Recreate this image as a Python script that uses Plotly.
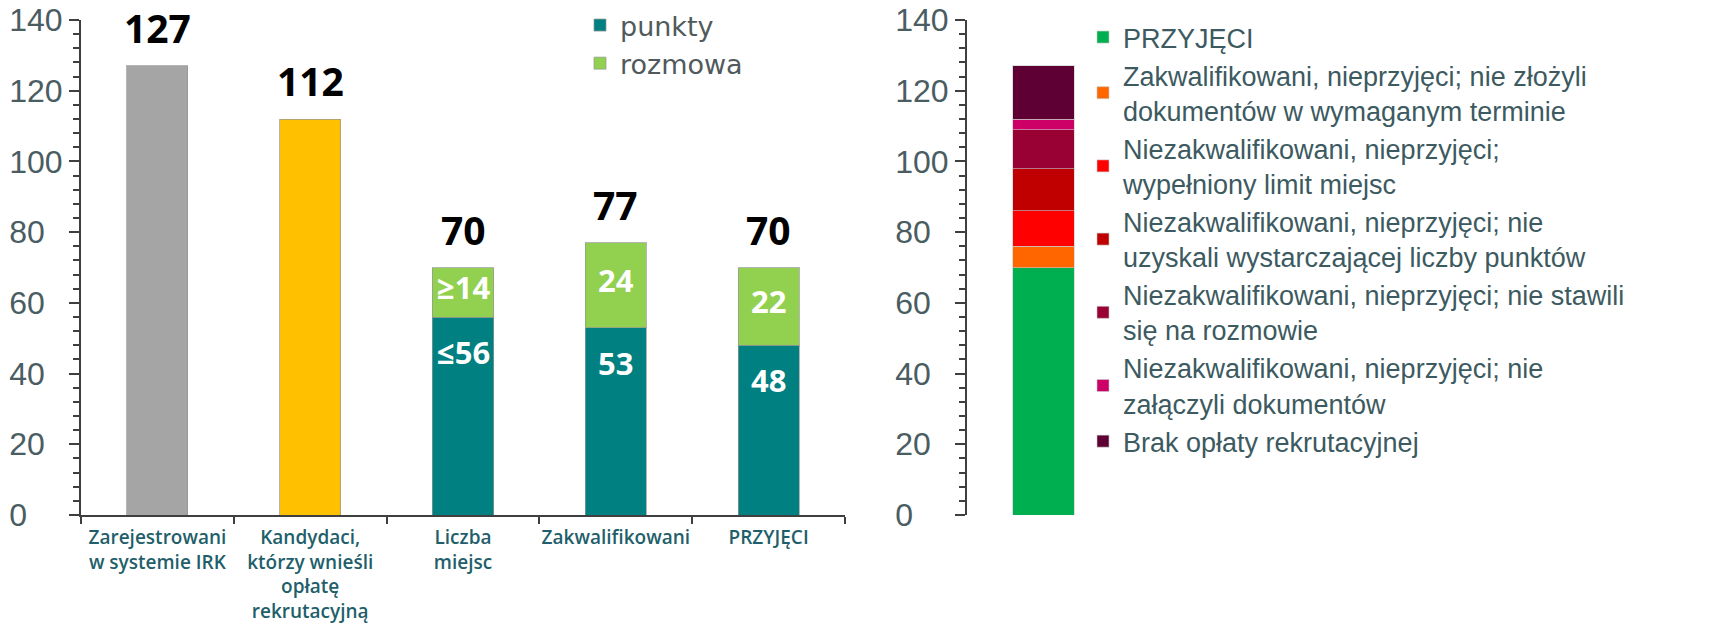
import plotly.graph_objects as go

# ---------------- data ----------------
categories = [
    "Zarejestrowani w systemie IRK",
    "Kandydaci, którzy wnieśli opłatę rekrutacyjną",
    "Liczba miejsc",
    "Zakwalifikowani",
    "PRZYJĘCI",
]
category_labels = [
    "Zarejestrowani<br>w systemie IRK",
    "Kandydaci,<br>którzy wnieśli<br>opłatę<br>rekrutacyjną",
    "Liczba<br>miejsc",
    "Zakwalifikowani",
    "PRZYJĘCI",
]
single_categories = categories[:2]
single_values = [127, 112]
single_colors = ["#A5A5A5", "#FFC000"]

split_categories = categories[2:]
punkty = [56, 53, 48]
rozmowa = [14, 24, 22]
punkty_labels = ["≤56", "53", "48"]
rozmowa_labels = ["≥14", "24", "22"]

status_names = [
    "PRZYJĘCI",
    "Zakwalifikowani, nieprzyjęci; nie złożyli<br>dokumentów w wymaganym terminie",
    "Niezakwalifikowani, nieprzyjęci;<br>wypełniony limit miejsc",
    "Niezakwalifikowani, nieprzyjęci; nie<br>uzyskali wystarczającej liczby punktów",
    "Niezakwalifikowani, nieprzyjęci; nie stawili<br>się na rozmowie",
    "Niezakwalifikowani, nieprzyjęci; nie<br>załączyli dokumentów",
    "Brak opłaty rekrutacyjnej",
]
status_values = [70, 6, 10, 12, 11, 3, 15]
status_colors = ["#00B050", "#FF6600", "#FF0000", "#C00000", "#990033", "#CC0066", "#5E0033"]
status_category = ["Kandydaci"]

y_tick_values = [0, 20, 40, 60, 80, 100, 120, 140]
y_tick_labels = [str(v) + "\u2007" * (3 - len(str(v))) for v in y_tick_values]

totals = single_values + [p + r for p, r in zip(punkty, rozmowa)]

# ---------------- style ----------------
W, H = 1733, 627
TEAL = "#008080"
LGREEN = "#92D050"
EDGE = "rgba(150,150,150,0.7)"
AXIS = "#3F3F3F"
TICKFONT = dict(family="Liberation Sans, Arial", size=32, color="#4A5D62")
y_dom = [1 - 515 / H, 1 - 20 / H]

fig = go.Figure()

fig.add_trace(go.Bar(
    x=single_categories, y=single_values,
    marker=dict(color=single_colors, line=dict(color=EDGE, width=1)),
    showlegend=False, xaxis="x", yaxis="y", hoverinfo="x+y",
))
fig.add_trace(go.Bar(
    x=split_categories, y=punkty, name="punkty",
    marker=dict(color=TEAL, line=dict(color=EDGE, width=1)),
    xaxis="x", yaxis="y", legend="legend2",
))
fig.add_trace(go.Bar(
    x=split_categories, y=rozmowa, name="rozmowa",
    marker=dict(color=LGREEN, line=dict(color=EDGE, width=1)),
    xaxis="x", yaxis="y", legend="legend2",
))

for name, val, col in zip(status_names, status_values, status_colors):
    fig.add_trace(go.Bar(
        x=status_category, y=[val], name=name,
        marker=dict(color=col, line=dict(color="rgba(200,200,200,0.6)", width=1)),
        xaxis="x2", yaxis="y2", legend="legend",
    ))

annotations = []
for cat, tot in zip(categories, totals):
    annotations.append(dict(
        x=cat, y=tot, xref="x", yref="y", text=str(tot), showarrow=False,
        yanchor="bottom", yshift=10,
        font=dict(family="Open Sans, DejaVu Sans", size=39, color="#000000", weight="bold"),
    ))
for cat, p, r, pl, rl in zip(split_categories, punkty, rozmowa, punkty_labels, rozmowa_labels):
    annotations.append(dict(
        x=cat, y=p, xref="x", yref="y", text=pl, showarrow=False,
        yanchor="top", yshift=-12,
        font=dict(family="Open Sans, DejaVu Sans", size=31, color="#FFFFFF", weight="bold"),
    ))
    annotations.append(dict(
        x=cat, y=p + r / 2, xref="x", yref="y", text=rl, showarrow=False,
        yanchor="middle", yshift=5,
        font=dict(family="Open Sans, DejaVu Sans", size=31, color="#FFFFFF", weight="bold"),
    ))

yaxis_common = dict(
    range=[0, 140], tickmode="array", tickvals=y_tick_values, ticktext=y_tick_labels,
    ticks="outside", ticklen=10, tickwidth=2, tickcolor=AXIS,
    showline=True, linecolor=AXIS, linewidth=2,
    showgrid=False, zeroline=False, tickfont=TICKFONT,
    ticklabeloverflow="allow", automargin=False,
    minor=dict(dtick=4, tick0=0, ticks="outside", ticklen=6, tickwidth=1.5, tickcolor=AXIS, showgrid=False),
    domain=y_dom, fixedrange=True,
)

fig.update_layout(
    template="none",
    width=W, height=H, autosize=False,
    margin=dict(l=0, r=0, t=0, b=0, pad=0),
    paper_bgcolor="white", plot_bgcolor="white",
    barmode="stack", bargap=0.6,
    xaxis=dict(
        domain=[81 / W, 845 / W], anchor="y",
        categoryorder="array", categoryarray=categories,
        tickmode="array", tickvals=categories, ticktext=category_labels,
        range=[-0.5, 4.5], tickangle=0, automargin=False, ticklabeloverflow="allow",
        ticklabelstandoff=4,
        showline=True, linecolor=AXIS, linewidth=2,
        ticks="outside", tickson="boundaries", ticklen=7, tickwidth=1.5, tickcolor=AXIS,
        tickfont=dict(family="Open Sans, Liberation Sans, Arial", size=19, color="#1F5F6B", weight=600),
        showgrid=False, zeroline=False, fixedrange=True,
    ),
    yaxis=dict(anchor="x", **yaxis_common),
    xaxis2=dict(
        domain=[967 / W, 1120 / W], anchor="y2", range=[-0.5, 0.5], automargin=False,
        showline=False, showticklabels=False, ticks="", showgrid=False, zeroline=False, fixedrange=True,
    ),
    yaxis2=dict(anchor="x2", **yaxis_common),
    legend=dict(
        x=1083 / W, xanchor="left", y=1 - 13 / H, yanchor="top",
        font=dict(family="Liberation Sans, Arial", size=27, color="#3C5A5F"),
        traceorder="normal", bgcolor="rgba(0,0,0,0)", borderwidth=0,
    ),
    legend2=dict(
        x=580 / W, xanchor="left", y=1 - 1 / H, yanchor="top",
        font=dict(family="DejaVu Sans", size=27, color="#505A5C"),
        traceorder="normal", bgcolor="rgba(0,0,0,0)", borderwidth=0,
    ),
    annotations=annotations,
    showlegend=True,
)

fig.write_html(
    "out.html",
    config={"displayModeBar": False},
    post_script="document.documentElement.style.margin='0';document.body.style.margin='0';document.body.style.overflow='hidden';",
)
